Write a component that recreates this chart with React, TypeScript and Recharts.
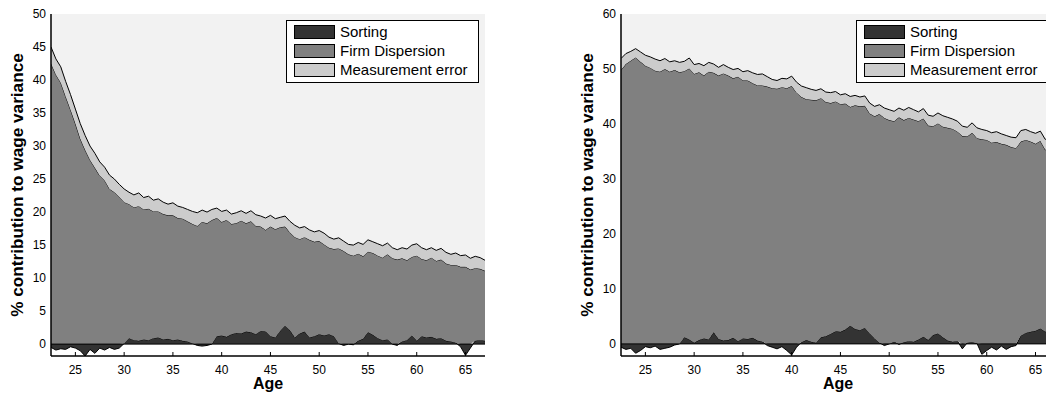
import { AreaChart, Area, XAxis, YAxis, ReferenceArea, ReferenceLine } from "recharts";

// age grid (half-year steps)
const ages = [
  22.5, 23, 23.5, 24, 24.5, 25, 25.5, 26, 26.5, 27,
  27.5, 28, 28.5, 29, 29.5, 30, 30.5, 31, 31.5, 32,
  32.5, 33, 33.5, 34, 34.5, 35, 35.5, 36, 36.5, 37,
  37.5, 38, 38.5, 39, 39.5, 40, 40.5, 41, 41.5, 42,
  42.5, 43, 43.5, 44, 44.5, 45, 45.5, 46, 46.5, 47,
  47.5, 48, 48.5, 49, 49.5, 50, 50.5, 51, 51.5, 52,
  52.5, 53, 53.5, 54, 54.5, 55, 55.5, 56, 56.5, 57,
  57.5, 58, 58.5, 59, 59.5, 60, 60.5, 61, 61.5, 62,
  62.5, 63, 63.5, 64, 64.5, 65, 65.5, 66, 66.5, 67,
];

// left panel
const leftSorting = [
  -0.5, -0.9, -0.7, -0.8, -0.4, -0.6, -1.0, -1.8, -0.8, -1.4,
  -0.6, -0.9, -0.5, -0.8, -0.6, 0.1, 0.9, 0.6, 0.5, 0.7,
  0.6, 0.9, 1.0, 0.7, 0.8, 0.6, 0.7, 0.5, 0.4, 0.1,
  -0.2, -0.3, -0.2, 0.0, 1.2, 1.3, 1.1, 1.5, 1.7, 1.6,
  1.9, 1.8, 1.5, 2.0, 1.9, 1.2, 1.0, 2.0, 2.8, 2.1,
  1.0, 1.6, 1.9, 1.0, 1.2, 1.5, 1.3, 1.5, 1.2, 0.1,
  -0.2, 0.0, -0.1, 0.5, 0.8, 1.8, 1.4, 0.9, 0.6, 0.7,
  0.0, -0.2, 0.4, 0.6, 1.3, 0.5, 1.2, 1.0, 1.1, 0.8,
  0.9, 0.5, 0.4, 0.2, -0.4, -1.7, -0.6, 0.5, 0.6, 0.5,
];
const leftFirm = [
  42.5, 40.8, 39.6, 37.5, 35.5, 33.4, 31.1, 29.4, 27.9, 26.7,
  25.5, 24.8, 23.5, 23.0, 22.3, 21.4, 20.3, 20.1, 20.4, 19.7,
  19.9, 19.2, 19.1, 19.0, 18.7, 18.9, 18.4, 18.5, 18.2, 18.1,
  17.9, 18.5, 18.3, 18.8, 17.9, 17.2, 17.7, 16.7, 16.6, 17.1,
  16.4, 16.8, 16.4, 15.8, 15.4, 16.6, 16.4, 15.7, 15.0, 14.8,
  15.2, 14.3, 14.3, 14.8, 14.3, 14.1, 13.8, 13.1, 13.2, 14.4,
  14.1, 13.6, 13.4, 13.2, 12.5, 12.2, 12.4, 12.5, 12.5, 12.9,
  13.0, 12.8, 12.6, 12.1, 11.9, 12.9, 11.7, 11.7, 12.0, 11.8,
  11.9, 11.7, 11.6, 11.8, 11.7, 11.7, 11.3, 11.0, 10.8, 10.6,
];
const leftMeasurement = [
  2.5, 2.4, 2.4, 2.3, 2.3, 2.2, 2.3, 2.2, 2.1, 2.2,
  2.1, 2.0, 2.1, 2.0, 1.9, 2.0, 1.8, 1.9, 2.0, 1.8,
  1.9, 1.7, 1.9, 1.8, 1.7, 1.9, 1.8, 1.7, 1.8, 1.9,
  2.0, 1.8, 1.7, 1.6, 1.5, 1.6, 1.5, 1.5, 1.6, 1.5,
  1.5, 1.6, 1.7, 1.6, 1.8, 1.7, 1.6, 1.5, 1.6, 1.7,
  1.8, 1.7, 1.6, 1.5, 1.5, 1.6, 1.7, 1.6, 1.5, 1.6,
  1.5, 1.5, 1.6, 1.7, 1.8, 1.8, 1.7, 1.8, 1.8, 1.7,
  1.6, 1.5, 1.6, 1.7, 1.8, 1.8, 1.7, 1.6, 1.5, 1.6,
  1.7, 1.7, 1.6, 1.8, 1.7, 1.8, 1.7, 1.8, 1.7, 1.6,
];

// right panel
const rightSorting = [
  -0.6, -1.0, -0.8, -1.7, -1.2, -0.5, -0.7, -0.4, -1.0, -0.8,
  -0.6, -0.2, 0.0, 1.2, 0.8, 0.2, 0.7, 1.0, 0.8, 2.1,
  0.9, 0.6, 0.7, 1.1, 0.5, 1.0, 0.9, 1.1, 0.6, 0.4,
  -0.3, -0.6, -0.9, -0.5, -1.2, -2.0, -0.6, 0.3, 0.7, 0.4,
  0.2, 1.2, 1.4, 1.8, 2.3, 2.2, 2.6, 3.3, 2.7, 2.5,
  2.9, 1.9, 1.0, 0.2, -0.3, 0.0, 0.4, -0.1, 0.3, 0.5,
  0.4, 0.8, 1.3, 0.7, 1.6, 1.9, 1.2, 0.6, 0.4, 0.5,
  -0.9, 0.2, 0.3, 0.1, -1.9, -1.2, -0.6, -1.1, -0.4, -1.0,
  -0.5, -0.3, 1.5, 2.0, 2.2, 2.4, 2.8, 2.2, 3.0, 2.6,
];
const rightFirm = [
  49.8, 50.9, 51.5, 52.1, 51.3, 50.6, 50.2, 49.7, 49.5, 50.0,
  49.5, 49.8, 49.4, 48.4, 49.3, 48.9, 48.7, 47.8, 48.7, 47.2,
  47.9, 48.6, 48.1, 47.2, 48.1, 46.9, 47.0, 46.3, 46.4, 46.6,
  46.8, 46.5, 46.4, 46.7, 46.5, 46.9, 45.7, 44.6, 43.8, 44.0,
  44.1, 43.5, 42.6, 42.0, 41.8, 41.4, 41.1, 39.8, 40.7, 40.7,
  40.4, 40.0, 40.4, 41.6, 41.1, 40.7, 40.1, 41.2, 40.4, 40.6,
  40.4, 39.7, 39.7, 39.0, 38.0, 38.2, 38.3, 38.7, 38.7, 38.1,
  37.8, 37.5, 38.1, 37.3, 37.2, 37.1, 36.6, 36.7, 36.4, 36.2,
  35.8, 35.6, 35.3, 35.1, 34.6, 34.0, 34.1, 33.1, 32.7, 32.5,
];
const rightMeasurement = [
  2.1, 1.9, 1.7, 1.6, 1.8, 1.9, 2.0, 2.1, 2.0, 1.9,
  1.8, 1.7, 1.8, 1.8, 1.9, 1.7, 1.6, 1.8, 1.7, 1.6,
  1.5, 1.6, 1.5, 1.6, 1.5, 1.6, 1.8, 1.9, 2.0, 2.1,
  1.8, 1.6, 1.5, 1.6, 1.7, 1.8, 1.9, 2.0, 2.1, 1.9,
  1.8, 1.7, 1.8, 1.9, 1.8, 1.7, 1.8, 1.9, 1.8, 1.7,
  1.8, 1.9, 1.8, 1.7, 1.8, 1.9, 1.8, 1.7, 1.8, 1.9,
  1.8, 1.7, 1.8, 1.9, 1.8, 1.9, 2.0, 1.9, 1.8, 1.9,
  1.8, 1.7, 1.8, 1.9, 1.8, 1.7, 1.8, 1.9, 1.8, 1.7,
  1.8, 1.9, 2.0, 1.9, 1.8, 1.9, 1.8, 1.9, 1.8, 1.9,
];

const ageTicks = [25, 30, 35, 40, 45, 50, 55, 60, 65];
const leftTicks = [0, 5, 10, 15, 20, 25, 30, 35, 40, 45, 50];
const rightTicks = [0, 10, 20, 30, 40, 50, 60];

const legendItems = [
  { name: "Sorting", color: "#333333" },
  { name: "Firm Dispersion", color: "#808080" },
  { name: "Measurement error", color: "#cccccc" },
];

const FONT = '"Liberation Sans", Arial, Helvetica, sans-serif';

interface PanelProps {
  left: number;
  sorting: number[];
  firm: number[];
  measurement: number[];
  yMin: number;
  yMax: number;
  yTicks: number[];
}

function LegendBox({ left }: { left: number }) {
  return (
    <div
      style={{
        position: "absolute",
        left: left + 286,
        top: 20,
        width: 193,
        height: 63,
        boxSizing: "border-box",
        border: "1px solid #000",
        background: "#fff",
        fontFamily: FONT,
        fontSize: 15,
        color: "#000",
      }}
    >
      {legendItems.map((item, i) => (
        <div
          key={item.name}
          style={{
            position: "absolute",
            left: 7,
            top: 4 + i * 19,
            height: 14,
            display: "flex",
            alignItems: "center",
            whiteSpace: "nowrap",
          }}
        >
          <div
            style={{
              width: 41,
              height: 14,
              boxSizing: "border-box",
              border: "1px solid #000",
              background: item.color,
              marginRight: 5,
            }}
          />
          <span style={{ lineHeight: "14px" }}>{item.name}</span>
        </div>
      ))}
    </div>
  );
}

function Panel({ left, sorting, firm, measurement, yMin, yMax, yTicks }: PanelProps) {
  const data = ages.map((age, i) => ({
    age,
    sorting: sorting[i],
    firm: firm[i],
    measurement: measurement[i],
  }));

  return (
    <div style={{ position: "absolute", left, top: 0 }}>
      <AreaChart
        width={500}
        height={394}
        data={data}
        stackOffset="sign"
        margin={{ top: 14, right: 15, bottom: 0, left: 0 }}
      >
        <ReferenceArea
          y1={0}
          y2={yMax}
          fill="#f2f2f2"
          fillOpacity={1}
          stroke="none"
          zIndex={-50}
        />
        <XAxis
          dataKey="age"
          type="number"
          domain={[22.5, 67]}
          ticks={ageTicks}
          allowDataOverflow
          height={38}
          axisLine={{ stroke: "#000", strokeWidth: 1.5 }}
          tickLine={{ stroke: "#000" }}
          tickSize={-4}
          tickMargin={13}
          tick={{ fill: "#000", fontSize: 12, fontFamily: FONT }}
          label={{
            content: (props: any) => {
              const vb = props.viewBox || { x: 51, y: 356, width: 434, height: 38 };
              return (
                <text
                  x={vb.x + vb.width / 2}
                  y={vb.y + 33}
                  textAnchor="middle"
                  fontFamily={FONT}
                  fontWeight="bold"
                  fontSize={16}
                  fill="#000"
                >
                  Age
                </text>
              );
            },
          }}
        />
        <XAxis
          xAxisId="top"
          orientation="top"
          dataKey="age"
          type="number"
          domain={[22.5, 67]}
          height={0}
          tick={false}
          tickLine={false}
          axisLine={{ stroke: "#000" }}
        />
        <YAxis
          type="number"
          domain={[yMin, yMax]}
          ticks={yTicks}
          allowDataOverflow
          width={51}
          axisLine={{ stroke: "#000", strokeWidth: 1.5 }}
          tickLine={false}
          tickSize={0}
          tickMargin={5}
          tick={{ fill: "#000", fontSize: 12, fontFamily: FONT }}
          label={{
            content: (props: any) => {
              const vb = props.viewBox || { x: 0, y: 14, width: 51, height: 342 };
              const cx = vb.x + 17;
              const cy = vb.y + vb.height / 2;
              return (
                <text
                  x={cx}
                  y={cy}
                  transform={`rotate(-90, ${cx}, ${cy})`}
                  textAnchor="middle"
                  dominantBaseline="central"
                  fontFamily={FONT}
                  fontWeight="bold"
                  fontSize={17.2}
                  fill="#000"
                >
                  % contribution to wage variance
                </text>
              );
            },
          }}
        />
        <YAxis
          yAxisId="right"
          orientation="right"
          domain={[yMin, yMax]}
          width={0}
          tick={false}
          tickLine={false}
          axisLine={{ stroke: "#000" }}
        />
        <Area
          type="linear"
          dataKey="sorting"
          stackId="a"
          fill="#333333"
          fillOpacity={1}
          stroke="#000"
          strokeWidth={1}
          dot={false}
          activeDot={false}
          isAnimationActive={false}
        />
        <Area
          type="linear"
          dataKey="firm"
          stackId="a"
          fill="#808080"
          fillOpacity={1}
          stroke="#000"
          strokeWidth={1}
          dot={false}
          activeDot={false}
          isAnimationActive={false}
        />
        <Area
          type="linear"
          dataKey="measurement"
          stackId="a"
          fill="#cccccc"
          fillOpacity={1}
          stroke="#000"
          strokeWidth={1}
          dot={false}
          activeDot={false}
          isAnimationActive={false}
        />
        <ReferenceLine y={0} stroke="#000" strokeWidth={1} />
      </AreaChart>
      <LegendBox left={0} />
    </div>
  );
}

export default function App() {
  return (
    <div
      style={{
        position: "absolute",
        left: 0,
        top: 0,
        width: 1046,
        height: 394,
        overflow: "hidden",
        background: "#fff",
        fontFamily: FONT,
      }}
    >
      <Panel
        left={0}
        sorting={leftSorting}
        firm={leftFirm}
        measurement={leftMeasurement}
        yMin={-1.8}
        yMax={50}
        yTicks={leftTicks}
      />
      <Panel
        left={570}
        sorting={rightSorting}
        firm={rightFirm}
        measurement={rightMeasurement}
        yMin={-2.2}
        yMax={60}
        yTicks={rightTicks}
      />
    </div>
  );
}
